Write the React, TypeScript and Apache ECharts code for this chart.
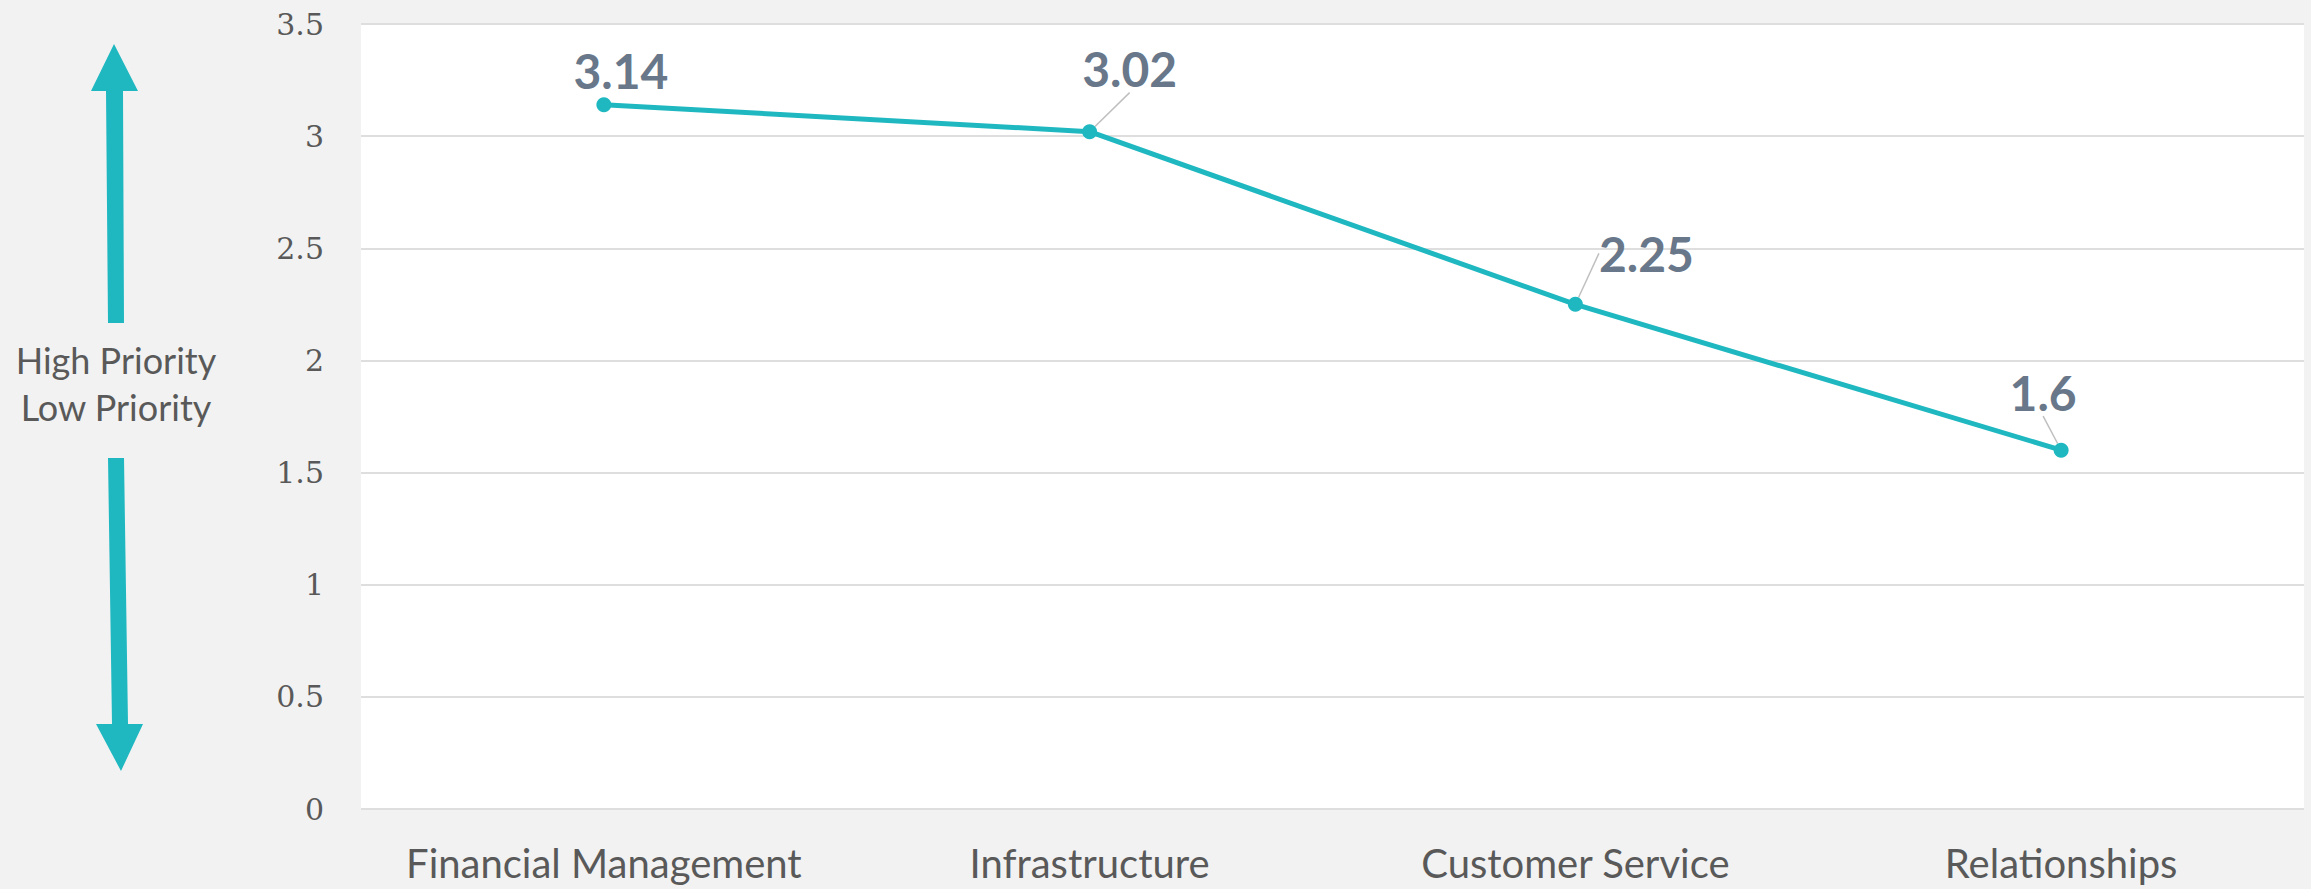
import React, { useEffect, useRef } from "react";
import * as echarts from "echarts";

const categories = ["Financial Management", "Infrastructure", "Customer Service", "Relationships"];
const scores = [3.14, 3.02, 2.25, 1.6];
const yMin = 0;
const yMax = 3.5;
const yStep = 0.5;
// label placement relative to each point (dx, dy) and leader line visibility
const labelShifts: [number, number][] = [[17, -34], [40, -63], [71, -51], [-18, -58]];
const leaderShown = [false, true, true, true];

const TEAL = "#1fb8c1";
const GREY_TEXT = "#595959";
const LABEL_COLOR = "#687789";

export default function App() {
  const ref = useRef<HTMLDivElement>(null);
  useEffect(() => {
    document.body.style.margin = "0";
    if (!ref.current) return;
    const chart = echarts.init(ref.current, undefined, { renderer: "svg" });
    chart.setOption({
      animation: false,
      backgroundColor: "#f2f2f2",
      grid: {
        left: 361,
        right: 7,
        top: 24,
        bottom: 80,
        show: true,
        backgroundColor: "#ffffff",
        borderWidth: 0,
      },
      xAxis: {
        type: "category",
        data: categories,
        boundaryGap: true,
        axisLine: { show: false },
        axisTick: { show: false },
        axisLabel: {
          interval: 0,
          fontFamily: "Lato",
          fontSize: 40,
          color: GREY_TEXT,
          margin: 34,
        },
      },
      yAxis: {
        type: "value",
        min: yMin,
        max: yMax,
        interval: yStep,
        axisLine: { show: false },
        axisTick: { show: false },
        splitLine: { lineStyle: { color: "#dedede", width: 2 } },
        axisLabel: {
          fontFamily: "DejaVu Serif",
          fontSize: 30,
          color: GREY_TEXT,
          margin: 37,
        },
      },
      series: [
        {
          type: "line",
          data: scores.map((v, i) => ({
            value: v,
            labelLine: { show: leaderShown[i] },
          })),
          symbol: "circle",
          symbolSize: 15,
          itemStyle: { color: TEAL },
          lineStyle: { color: TEAL, width: 5 },
          label: {
            show: true,
            position: "inside",
            fontFamily: "Lato",
            fontWeight: "bold",
            fontSize: 48,
            color: LABEL_COLOR,
          },
          labelLine: {
            show: true,
            lineStyle: { color: "#bfbfbf", width: 1.5 },
          },
          labelLayout: (params: any) => ({
            dx: labelShifts[params.dataIndex][0],
            dy: labelShifts[params.dataIndex][1],
          }),
        },
      ],
      graphic: [
        {
          type: "polygon",
          shape: {
            points: [[91, 91], [114, 44], [138, 91], [123, 91], [124, 323], [108, 323], [106, 91]],
          },
          style: { fill: TEAL },
        },
        {
          type: "polygon",
          shape: {
            points: [[108, 458], [124, 458], [128, 724], [143, 724], [121, 771], [96, 724], [112, 724]],
          },
          style: { fill: TEAL },
        },
        {
          type: "text",
          x: 116,
          y: 360,
          style: {
            text: "High Priority",
            fontFamily: "Lato",
            fontSize: 36,
            fill: GREY_TEXT,
            align: "center",
            verticalAlign: "middle",
          },
        },
        {
          type: "text",
          x: 116,
          y: 407,
          style: {
            text: "Low Priority",
            fontFamily: "Lato",
            fontSize: 36,
            fill: GREY_TEXT,
            align: "center",
            verticalAlign: "middle",
          },
        },
      ],
    });
    return () => chart.dispose();
  }, []);
  return (
    <div
      ref={ref}
      style={{ position: "absolute", left: 0, top: 0, width: 2311, height: 889 }}
    />
  );
}
